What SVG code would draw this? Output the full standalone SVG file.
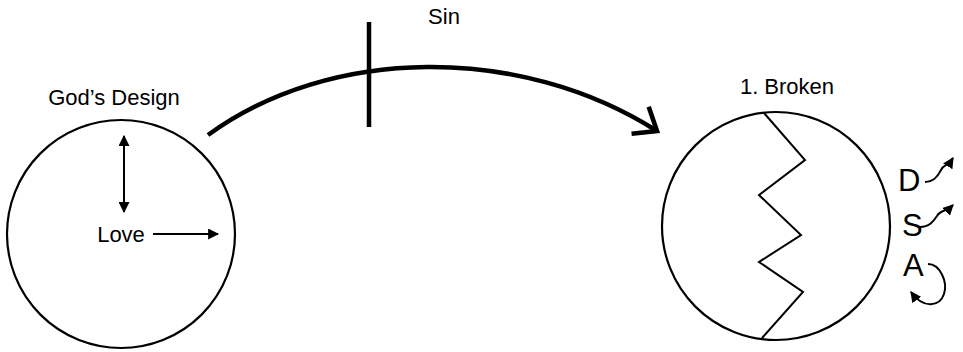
<svg xmlns="http://www.w3.org/2000/svg" width="963" height="352" viewBox="0 0 963 352">
<style>
  .lbl { font-family: "Liberation Sans", Arial, sans-serif; fill: #000; }
  .circ { fill: #fff; stroke: #000; stroke-width: 2.2; }
  .thin { fill: none; stroke: #000; stroke-width: 2; }
  .thick { fill: none; stroke: #000; stroke-width: 4.5; }
</style>
<defs>
  <marker id="tri" viewBox="0 0 10 10" refX="9" refY="5" markerWidth="11" markerHeight="11" markerUnits="userSpaceOnUse" orient="auto-start-reverse">
    <path d="M0,0 L10,5 L0,10 Z" fill="#000"/>
  </marker>
  <marker id="tri2" viewBox="0 0 10 10" refX="9" refY="5" markerWidth="11" markerHeight="11" markerUnits="userSpaceOnUse" orient="auto">
    <path d="M0,0 L10,5 L0,10 Z" fill="#000"/>
  </marker>
  <marker id="chev" viewBox="-12 -10 14 20" refX="0" refY="0" markerWidth="28" markerHeight="40" markerUnits="userSpaceOnUse" orient="auto">
    <path d="M-10,-8 L0,0 L-10,8" fill="none" stroke="#000" stroke-width="2.3" stroke-linejoin="miter"/>
  </marker>
</defs>
<rect width="963" height="352" fill="#fff"/>

<g id="gods-design">
  <circle class="circ" cx="121" cy="234" r="114"/>
  <text class="lbl" x="114" y="105" font-size="22" text-anchor="middle">God’s Design</text>
  <line class="thin" x1="124" y1="136" x2="124" y2="212" marker-start="url(#tri)" marker-end="url(#tri)"/>
  <text class="lbl" x="121" y="242" font-size="22" text-anchor="middle">Love</text>
  <line class="thin" x1="153" y1="234" x2="218" y2="234" marker-end="url(#tri)"/>
</g>

<g id="broken">
  <circle class="circ" cx="776" cy="226" r="114"/>
  <polyline class="thin" points="764,113 805,160 759,195 801,235 759,262 803,292 762,338" stroke-width="2.5"/>
  <text class="lbl" x="787" y="94" font-size="22" text-anchor="middle">1. Broken</text>
</g>

<g id="dsa">
  <text class="lbl" x="898" y="191" font-size="31">D</text>
  <text class="lbl" x="902" y="236" font-size="31">S</text>
  <text class="lbl" x="903" y="276" font-size="31">A</text>
  <path class="thin" d="M925,182 C934,182 938,176 941,170 C944,164 948,166 953,158" marker-end="url(#tri2)"/>
  <path class="thin" d="M920,227 C929,227 933,222 937,216 C940,210 946,212 953,205" marker-end="url(#tri2)"/>
  <path class="thin" d="M928,264 C940,264 948,282 944,294 C940,306 924,310 911,292" marker-end="url(#tri2)"/>
</g>

<g id="sin">
  <text class="lbl" x="444" y="24" font-size="22" text-anchor="middle">Sin</text>
</g>

<g id="connectors">
  <path class="thick" d="M208,135 C330,46 520,44 657,131" marker-end="url(#chev)"/>
  <line class="thick" x1="369" y1="22" x2="369" y2="127" stroke-width="4"/>
</g>
</svg>
